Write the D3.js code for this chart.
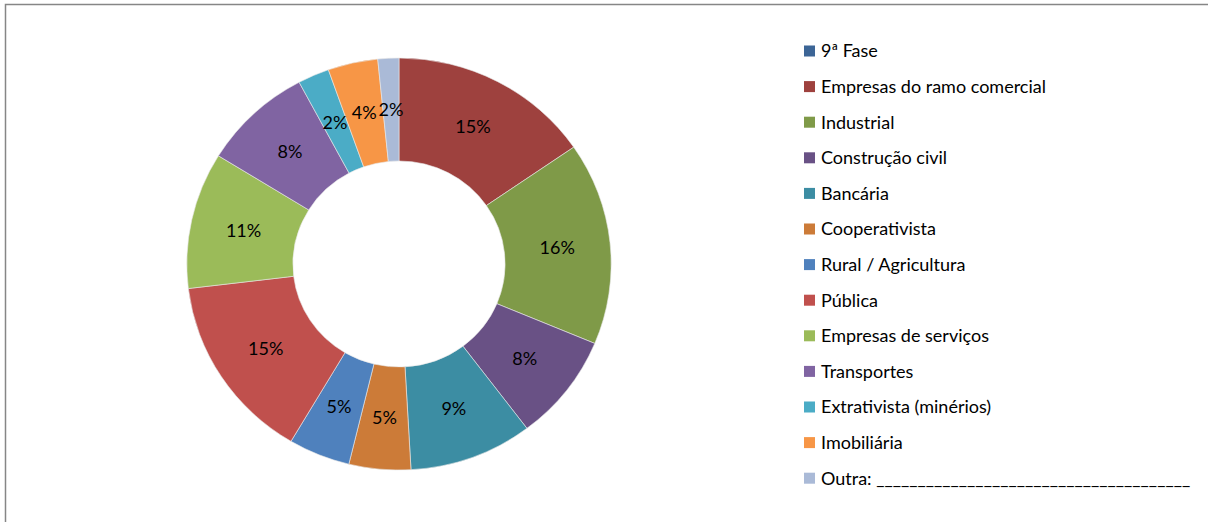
<!DOCTYPE html>
<html>
<head>
<meta charset="utf-8">
<script src="https://cdn.jsdelivr.net/npm/d3@7"></script>
<style>
  body { margin: 0; background: #fff; }
  text { font-family: Lato, "Noto Sans", sans-serif; fill: #000; }
</style>
</head>
<body>
<div class="chart"></div>
<script>
// Chart size
var svgWidth = 1208;
var svgHeight = 522;

// Data: categories in drawing order (clockwise from 12 o'clock)
var categories = [
  "9ª Fase",
  "Empresas do ramo comercial",
  "Industrial",
  "Construção civil",
  "Bancária",
  "Cooperativista",
  "Rural / Agricultura",
  "Pública",
  "Empresas de serviços",
  "Transportes",
  "Extrativista (minérios)",
  "Imobiliária",
  "Outra: ______________________________________"
];
var shares = [0, 15.4, 15.9, 8.4, 9.4, 4.7, 4.7, 14.6, 10.7, 8.4, 2.4, 3.8, 1.6];
var colors = [
  "#3c6596", "#9e413e", "#7f9a48", "#695185", "#3c8da3", "#cc7b38",
  "#4f81bd", "#c0504d", "#9bbb59", "#8064a2", "#4bacc6", "#f79646", "#aabad7"
];

var data = categories.map(function (c, i) {
  return { name: c, value: shares[i], color: colors[i] };
});
var total = d3.sum(data, d => d.value);

var svg = d3.select(".chart")
  .append("svg")
  .attr("width", svgWidth)
  .attr("height", svgHeight);

// Chart area frame (right and bottom edges fall outside the picture)
svg.append("rect")
  .attr("x", 5.5)
  .attr("y", 4.5)
  .attr("width", 1240)
  .attr("height", 560)
  .attr("fill", "#fff")
  .attr("stroke", "#868686")
  .attr("stroke-width", 1.5);

// Donut (original picture is slightly wider than tall)
var outerR = 206;
var innerR = 103;
var donut = svg.append("g")
  .attr("transform", "translate(399, 264) scale(1.03, 1)");

var pie = d3.pie()
  .sort(null)
  .value(d => d.value);

var arc = d3.arc()
  .innerRadius(innerR)
  .outerRadius(outerR);

var labelArc = d3.arc()
  .innerRadius((innerR + outerR) / 2)
  .outerRadius((innerR + outerR) / 2);

var slices = pie(data);

donut.selectAll("path")
  .data(slices)
  .enter()
  .append("path")
  .attr("d", arc)
  .attr("fill", d => d.data.color)
  .attr("stroke", "#e8e8e8")
  .attr("stroke-width", 0.6);

var pct = d3.format(".0%");
donut.selectAll("text")
  .data(slices.filter(d => d.data.value > 0))
  .enter()
  .append("text")
  .attr("transform", d => `translate(${labelArc.centroid(d)})`)
  .attr("text-anchor", "middle")
  .attr("dy", "0.35em")
  .style("font-size", "17.5px")
  .text(d => pct(d.data.value / total));

// Legend
var legend = svg.append("g")
  .attr("transform", "translate(804, 51)");

var rows = legend.selectAll("g")
  .data(data)
  .enter()
  .append("g")
  .attr("transform", (d, i) => `translate(0, ${i * 35.6})`);

rows.append("rect")
  .attr("x", 0)
  .attr("y", -5.5)
  .attr("width", 11)
  .attr("height", 11)
  .attr("fill", d => d.color);

rows.append("text")
  .attr("x", 17)
  .attr("dy", "0.35em")
  .style("font-size", "18px")
  .text(d => d.name);
</script>
</body>
</html>
